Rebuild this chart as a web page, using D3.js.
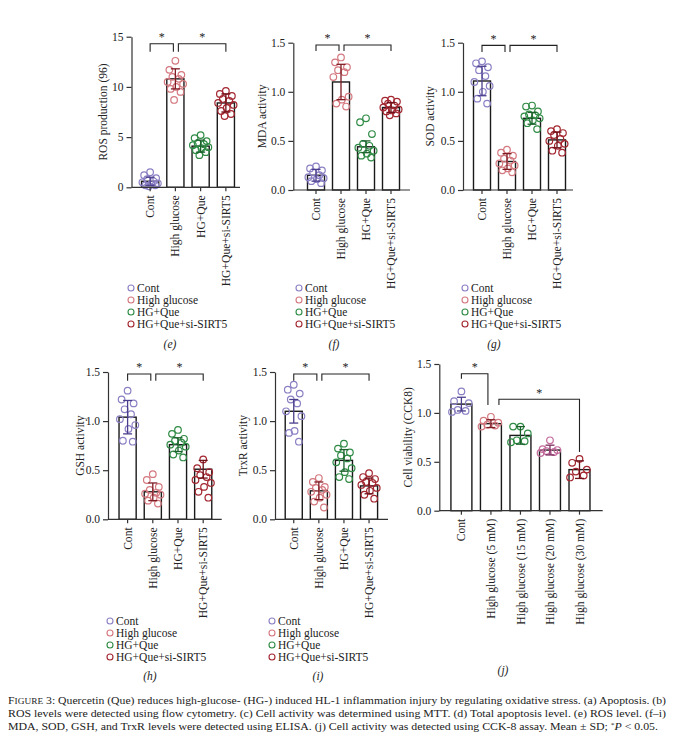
<!DOCTYPE html>
<html>
<head>
<meta charset="utf-8">
<script src="https://cdn.jsdelivr.net/npm/d3@7"></script>
<style>
  body { margin: 0; background: #fff; }
  svg text { font-family: 'Liberation Serif', 'DejaVu Serif', serif; fill: #222; }
</style>
</head>
<body>
<div id="chart"></div>
<script>
// Group names
const groups4 = ["Cont", "High glucose", "HG+Que", "HG+Que+si-SIRT5"];
const groupsJ = ["Cont", "High glucose (5 mM)", "High glucose (15 mM)", "High glucose (20 mM)", "High glucose (30 mM)"];

// Colours
const colors4 = ["#8c80c4", "#d4787f", "#2f8b45", "#a32630"];
const errColors4 = ["#4b3d8c", "#7e1c24", "#1c5f2c", "#6e121a"];
const colorsJ = ["#8c80c4", "#d4787f", "#2f8b45", "#c46a9c", "#a32630"];
const errColorsJ = ["#4b3d8c", "#7e1c24", "#1c5f2c", "#7d2a5e", "#6e121a"];

// (e) ROS production
const rosMean = [0.6, 10.8, 4.1, 8.4];
const rosSD = [0.4, 1.0, 0.6, 0.9];
const rosPts = [
  [1.5, 1.2, 0.9, 0.6, 0.5, 0.3, 0.2, 0.1, 0.2, 0.4, 0.8],
  [12.6, 11.7, 11.2, 11.0, 10.8, 10.5, 10.3, 10.0, 9.8, 9.5, 8.7],
  [5.2, 4.9, 4.6, 4.4, 4.2, 4.0, 3.9, 3.7, 3.5, 3.2, 4.3],
  [9.6, 9.3, 9.1, 8.8, 8.6, 8.4, 8.2, 7.9, 7.6, 7.3, 7.1]
];

// (f) MDA activity
const mdaMean = [0.15, 1.1, 0.44, 0.84];
const mdaSD = [0.06, 0.18, 0.06, 0.05];
const mdaPts = [
  [0.24, 0.22, 0.20, 0.18, 0.15, 0.13, 0.11, 0.09, 0.07, 0.12],
  [1.35, 1.30, 1.25, 1.22, 1.20, 1.15, 0.95, 0.92, 0.88, 0.85],
  [0.73, 0.69, 0.57, 0.47, 0.45, 0.43, 0.40, 0.37, 0.35, 0.33],
  [0.92, 0.91, 0.90, 0.88, 0.86, 0.84, 0.82, 0.80, 0.78, 0.76, 0.81]
];

// (g) SOD activity
const sodMean = [1.11, 0.29, 0.73, 0.51];
const sodSD = [0.15, 0.08, 0.06, 0.08];
const sodPts = [
  [1.31, 1.29, 1.25, 1.22, 1.16, 1.10, 1.06, 1.00, 0.93, 0.88],
  [0.41, 0.38, 0.35, 0.32, 0.30, 0.27, 0.25, 0.22, 0.20, 0.18],
  [0.86, 0.85, 0.80, 0.77, 0.76, 0.75, 0.73, 0.71, 0.68, 0.62],
  [0.62, 0.60, 0.58, 0.56, 0.52, 0.50, 0.47, 0.45, 0.40, 0.38]
];

// (h) GSH activity
const gshMean = [1.04, 0.28, 0.76, 0.51];
const gshSD = [0.17, 0.09, 0.07, 0.09];
const gshPts = [
  [1.31, 1.22, 1.18, 1.12, 1.07, 1.02, 0.96, 0.92, 0.80, 0.79],
  [0.46, 0.40, 0.33, 0.30, 0.27, 0.25, 0.22, 0.19, 0.16, 0.26],
  [0.91, 0.87, 0.82, 0.80, 0.78, 0.76, 0.74, 0.70, 0.66, 0.63],
  [0.61, 0.52, 0.48, 0.45, 0.43, 0.40, 0.37, 0.33, 0.28, 0.22]
];

// (i) TrxR activity
const trxMean = [1.10, 0.29, 0.60, 0.34];
const trxSD = [0.12, 0.09, 0.11, 0.08];
const trxPts = [
  [1.37, 1.32, 1.28, 1.22, 1.18, 1.10, 1.05, 0.90, 0.88, 0.79],
  [0.42, 0.38, 0.33, 0.30, 0.28, 0.25, 0.22, 0.18, 0.12, 0.32],
  [0.77, 0.72, 0.68, 0.65, 0.62, 0.58, 0.52, 0.48, 0.43, 0.41],
  [0.47, 0.43, 0.41, 0.38, 0.35, 0.32, 0.29, 0.25, 0.21, 0.37]
];

// (j) Cell viability (CCK8)
const cckMean = [1.09, 0.89, 0.77, 0.62, 0.42];
const cckSD = [0.07, 0.04, 0.09, 0.05, 0.09];
const cckPts = [
  [1.22, 1.12, 1.10, 1.03, 1.02, 1.01],
  [0.96, 0.92, 0.90, 0.88, 0.87, 0.86],
  [0.86, 0.86, 0.79, 0.72, 0.71, 0.70],
  [0.72, 0.63, 0.62, 0.61, 0.60, 0.59],
  [0.53, 0.49, 0.42, 0.40, 0.36, 0.34]
];

const ticks15 = [0, 5, 10, 15];
const ticks1_5 = [0, 0.5, 1.0, 1.5];

// Caption
const captionLines = [
  "Quercetin (Que) reduces high-glucose- (HG-) induced HL-1 inflammation injury by regulating oxidative stress. (a) Apoptosis. (b)",
  "ROS levels were detected using flow cytometry. (c) Cell activity was determined using MTT. (d) Total apoptosis level. (e) ROS level. (f–i)",
  "MDA, SOD, GSH, and TrxR levels were detected using ELISA. (j) Cell activity was detected using CCK-8 assay. Mean ± SD; "
];

const W = 674, H = 740;
const svg = d3.select("#chart").append("svg")
  .attr("width", W).attr("height", H);

// Panel layout table
const panels = [
  { tag: "(e)", title: "ROS production (96)", cats: groups4, mean: rosMean, sd: rosSD, pts: rosPts,
    col: colors4, err: errColors4, ticks: ticks15, fmt: d3.format("d"), max: 15,
    ax: 131.5, axEnd: 240, band: [137.5, 238.5], yr: [187.3, 36.7], titleX: 103,
    tagPos: [170, 348], legend: [131, 288],
    brackets: [{ a: 0, b: 1, y: 14.3, da: 13.5, db: 13.5, oa: 0, ob: -2 }, { a: 1, b: 3, y: 14.3, da: 13.5, db: 13.5, oa: 3, ob: 0 }] },
  { tag: "(f)", title: "MDA activity", cats: groups4, mean: mdaMean, sd: mdaSD, pts: mdaPts,
    col: colors4, err: errColors4, ticks: ticks1_5, fmt: d3.format(".1f"), max: 1.5,
    ax: 293.3, axEnd: 410, band: [303.5, 403.5], yr: [190, 42.7], titleX: 262,
    tagPos: [334, 348], legend: [299, 288],
    brackets: [{ a: 0, b: 1, y: 1.477, da: 1.415, db: 1.415, oa: 0, ob: -2 }, { a: 1, b: 3, y: 1.477, da: 1.415, db: 1.415, oa: 3, ob: 0 }] },
  { tag: "(g)", title: "SOD activity", cats: groups4, mean: sodMean, sd: sodSD, pts: sodPts,
    col: colors4, err: errColors4, ticks: ticks1_5, fmt: d3.format(".1f"), max: 1.5,
    ax: 463, axEnd: 573, band: [469.5, 569.5], yr: [190, 42.7], titleX: 430,
    tagPos: [494, 348], legend: [465, 288],
    brackets: [{ a: 0, b: 1, y: 1.473, da: 1.405, db: 1.405, oa: 0, ob: -2 }, { a: 1, b: 3, y: 1.473, da: 1.405, db: 1.405, oa: 3, ob: 0 }] },
  { tag: "(h)", title: "GSH activity", cats: groups4, mean: gshMean, sd: gshSD, pts: gshPts,
    col: colors4, err: errColors4, ticks: ticks1_5, fmt: d3.format(".1f"), max: 1.5,
    ax: 108, axEnd: 221.7, band: [115, 215.8], yr: [519.3, 372], titleX: 80,
    tagPos: [150, 680], legend: [110, 621],
    brackets: [{ a: 0, b: 1, y: 1.48, da: 1.41, db: 1.41, oa: 0, ob: -2 }, { a: 1, b: 3, y: 1.48, da: 1.41, db: 1.41, oa: 3, ob: 0 }] },
  { tag: "(i)", title: "TrxR activity", cats: groups4, mean: trxMean, sd: trxSD, pts: trxPts,
    col: colors4, err: errColors4, ticks: ticks1_5, fmt: d3.format(".1f"), max: 1.5,
    ax: 275, axEnd: 388, band: [281.2, 381.6], yr: [519.3, 372], titleX: 243,
    tagPos: [318, 680], legend: [272, 621],
    brackets: [{ a: 0, b: 1, y: 1.48, da: 1.41, db: 1.41, oa: 0, ob: -2 }, { a: 1, b: 3, y: 1.48, da: 1.41, db: 1.41, oa: 3, ob: 0 }] },
  { tag: "(j)", title: "Cell viability (CCK8)", cats: groupsJ, mean: cckMean, sd: cckSD, pts: cckPts,
    col: colorsJ, err: errColorsJ, ticks: ticks1_5, fmt: d3.format(".1f"), max: 1.5,
    ax: 439.3, axEnd: 602.7, band: [446.2, 594.7], yr: [510.7, 364], titleX: 408,
    tagPos: [503, 674], legend: null,
    brackets: [{ a: 0, b: 1, y: 1.40, da: 1.35, db: 1.08, oa: 0, ob: -3 }, { a: 1, b: 4, y: 1.14, da: 1.08, db: 0.60, oa: 8, ob: 0 }] }
];

// horizontal spread of the dots inside a bar (fraction of half bandwidth)
const spread = [0, -0.7, 0.7, -0.35, 0.4, -0.9, 0.9, 0.1, -0.55, 0.6, -0.15, 0.3];

panels.forEach(p => {
  const g = svg.append("g");

  const x = d3.scaleBand()
    .domain(p.cats)
    .range(p.band)
    .paddingInner(p.cats.length === 5 ? 0.29 : 0.32)
    .paddingOuter(0.16);

  const y = d3.scaleLinear()
    .domain([0, p.max])
    .range(p.yr);

  const bw = x.bandwidth();
  const cx = c => x(c) + bw / 2;

  // Bars
  g.selectAll("rect.bar")
    .data(p.cats)
    .enter()
    .append("rect")
    .attr("class", "bar")
    .attr("x", d => x(d))
    .attr("y", (d, i) => y(p.mean[i]))
    .attr("width", bw)
    .attr("height", (d, i) => y(0) - y(p.mean[i]))
    .attr("fill", "#fff")
    .attr("stroke", "#1a1a1a")
    .attr("stroke-width", 1.4);

  // Dots
  p.cats.forEach((c, i) => {
    const sorted = p.pts[i].slice().sort((a, b) => b - a);
    g.selectAll(null)
      .data(sorted)
      .enter()
      .append("circle")
      .attr("cx", (d, k) => cx(c) + spread[k % spread.length] * bw * 0.5)
      .attr("cy", d => y(d))
      .attr("r", 3.3)
      .attr("fill", "none")
      .attr("stroke", p.col[i])
      .attr("stroke-width", 1.2);
  });

  // Error bars (mean ± SD)
  const eb = g.selectAll("g.err")
    .data(p.cats)
    .enter()
    .append("g")
    .attr("stroke", (d, i) => p.err[i])
    .attr("stroke-width", 1.3);
  eb.append("line")
    .attr("x1", d => cx(d)).attr("x2", d => cx(d))
    .attr("y1", (d, i) => y(p.mean[i] - p.sd[i]))
    .attr("y2", (d, i) => y(p.mean[i] + p.sd[i]));
  eb.append("line")
    .attr("x1", d => cx(d) - 4.5).attr("x2", d => cx(d) + 4.5)
    .attr("y1", (d, i) => y(p.mean[i] + p.sd[i]))
    .attr("y2", (d, i) => y(p.mean[i] + p.sd[i]));
  eb.append("line")
    .attr("x1", d => cx(d) - 4.5).attr("x2", d => cx(d) + 4.5)
    .attr("y1", (d, i) => y(p.mean[i] - p.sd[i]))
    .attr("y2", (d, i) => y(p.mean[i] - p.sd[i]));

  // Y axis
  const yAxis = g.append("g")
    .attr("transform", `translate(${p.ax},0)`)
    .call(d3.axisLeft(y).tickValues(p.ticks).tickFormat(p.fmt).tickSize(5).tickSizeOuter(0));
  yAxis.select(".domain").attr("stroke", "#333").attr("stroke-width", 1.2);
  yAxis.selectAll(".tick line").attr("stroke", "#333").attr("stroke-width", 1.2);
  yAxis.selectAll("text")
    .attr("x", -8)
    .style("font-size", "11.5px")
    .style("font-family", "'Liberation Serif', serif")
    .attr("fill", "#222");

  // X axis
  const xAxis = g.append("g")
    .attr("transform", `translate(0,${y(0)})`)
    .call(d3.axisBottom(x).tickSize(4).tickSizeOuter(0));
  xAxis.select(".domain").remove();
  xAxis.append("line")
    .attr("x1", p.ax).attr("x2", p.axEnd)
    .attr("stroke", "#333").attr("stroke-width", 1.2);
  xAxis.selectAll(".tick line").attr("stroke", "#333").attr("stroke-width", 1.2);
  xAxis.selectAll("text")
    .attr("transform", "rotate(-90)")
    .attr("x", -8)
    .attr("y", 0)
    .attr("dy", "0.35em")
    .style("text-anchor", "end")
    .style("font-size", "11.6px")
    .style("font-family", "'Liberation Serif', serif")
    .attr("fill", "#222");

  // Y axis title
  g.append("text")
    .attr("transform", `translate(${p.titleX},${(p.yr[0] + p.yr[1]) / 2}) rotate(-90)`)
    .attr("text-anchor", "middle")
    .attr("dy", "0.35em")
    .style("font-size", "11.5px")
    .text(p.title);

  // Significance brackets
  p.brackets.forEach(b => {
    const xa = cx(p.cats[b.a]) + b.oa;
    const xb = cx(p.cats[b.b]) + b.ob;
    g.append("path")
      .attr("d", `M${xa},${y(b.da)}V${y(b.y)}H${xb}V${y(b.db)}`)
      .attr("fill", "none")
      .attr("stroke", "#222")
      .attr("stroke-width", 1.1);
    g.append("text")
      .attr("x", (xa + xb) / 2)
      .attr("y", y(b.y) - 2.5)
      .attr("text-anchor", "middle")
      .style("font-size", "12px")
      .text("*");
  });

  // Legend
  if (p.legend) {
    const lg = g.append("g").attr("transform", `translate(${p.legend[0]},${p.legend[1]})`);
    p.cats.forEach((c, i) => {
      lg.append("circle")
        .attr("cx", 0).attr("cy", i * 12)
        .attr("r", 3)
        .attr("fill", "none")
        .attr("stroke", p.col[i])
        .attr("stroke-width", 1.1);
      lg.append("text")
        .attr("x", 6).attr("y", i * 12)
        .attr("dy", "0.35em")
        .style("font-size", "11.5px")
        .text(c);
    });
  }

  // Panel tag
  g.append("text")
    .attr("x", p.tagPos[0]).attr("y", p.tagPos[1])
    .attr("text-anchor", "middle")
    .style("font-size", "11.5px")
    .style("font-style", "italic")
    .text(p.tag);
});

// Caption
const cap = svg.append("g").style("font-size", "11px");
const l1 = cap.append("text").attr("x", 8).attr("y", 704)
  .attr("textLength", 658).attr("lengthAdjust", "spacingAndGlyphs");
l1.append("tspan").text("F");
l1.append("tspan").style("font-size", "8.8px").text("IGURE");
l1.append("tspan").text(" 3: " + captionLines[0]);
cap.append("text").attr("x", 8).attr("y", 717)
  .attr("textLength", 658).attr("lengthAdjust", "spacingAndGlyphs")
  .text(captionLines[1]);
const l3 = cap.append("text").attr("x", 8).attr("y", 730)
  .attr("textLength", 650).attr("lengthAdjust", "spacingAndGlyphs");
l3.append("tspan").text(captionLines[2]);
l3.append("tspan").attr("dy", -3).style("font-size", "7px").text("*");
l3.append("tspan").attr("dy", 3).style("font-style", "italic").text("P");
l3.append("tspan").text(" < 0.05.");
</script>
</body>
</html>
